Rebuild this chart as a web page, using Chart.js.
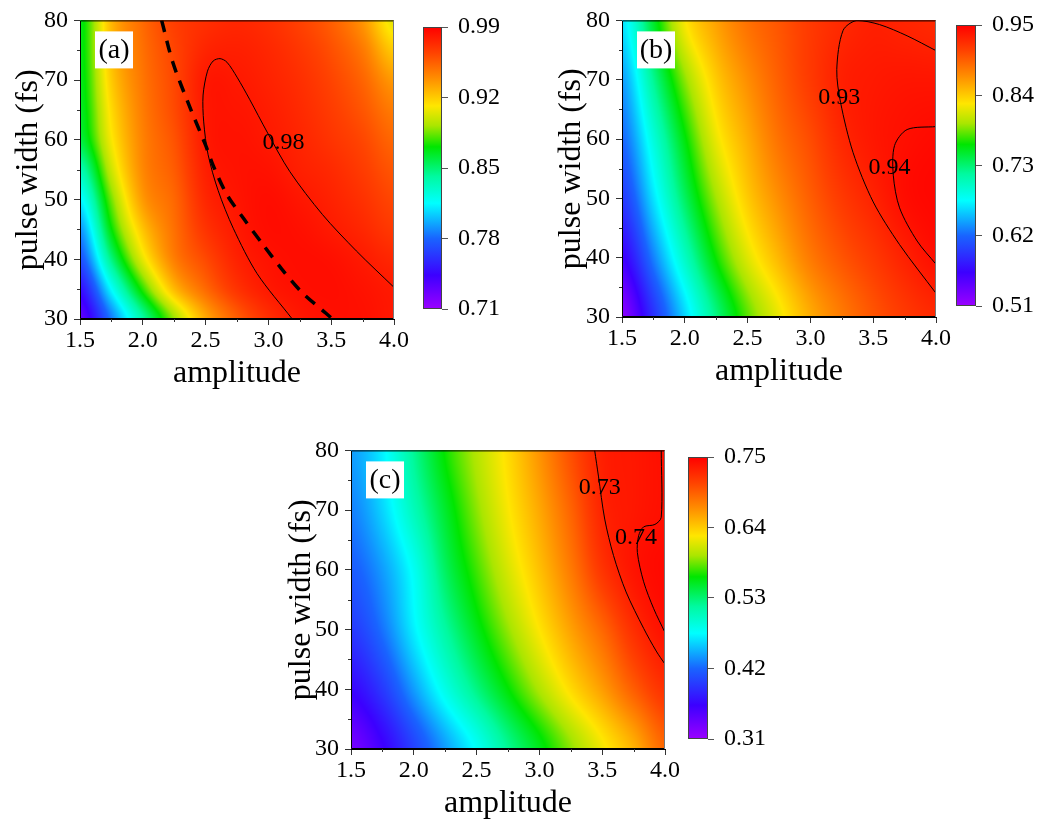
<!DOCTYPE html>
<html lang="en">
<head>
  <meta charset="UTF-8" />
  <title>Contour maps</title>
  <script src="https://cdn.jsdelivr.net/npm/chart.js"></script>
  <style>
    html, body { margin: 0; padding: 0; background: #fff; overflow: hidden; }
    body { width: 1038px; height: 819px; position: relative; }
    canvas { position: absolute; }
  </style>
</head>
<body>
  <canvas id="mapA" width="420" height="410" style="left:0px;top:0px"></canvas>
  <canvas id="barA" width="110" height="340" style="left:400px;top:0px"></canvas>
  <canvas id="mapB" width="420" height="410" style="left:540px;top:0px"></canvas>
  <canvas id="barB" width="108" height="340" style="left:930px;top:0px"></canvas>
  <canvas id="mapC" width="420" height="410" style="left:270px;top:430px"></canvas>
  <canvas id="barC" width="110" height="340" style="left:660px;top:430px"></canvas>

  <script>
    // grid nodes (columns = amplitude, rows = pulse width from top to bottom)
    const amplitude = [1.5, 1.75, 2.0, 2.25, 2.5, 2.75, 3.0, 3.25, 3.5, 3.75, 4.0];
    const pulseWidthA = [80, 75, 70, 65, 60, 55, 50, 45, 40, 35, 30];
    const pulseWidth = [80, 70, 60, 50, 40, 30];

    const valuesA = [
      [0.866, 0.926, 0.951, 0.966, 0.972, 0.975, 0.972, 0.965, 0.955, 0.937, 0.905],
      [0.866, 0.924, 0.949, 0.964, 0.976, 0.978, 0.975, 0.969, 0.960, 0.946, 0.920],
      [0.865, 0.920, 0.947, 0.963, 0.9805, 0.9805, 0.977, 0.972, 0.964, 0.953, 0.935],
      [0.863, 0.915, 0.945, 0.962, 0.9805, 0.982, 0.979, 0.974, 0.967, 0.958, 0.945],
      [0.858, 0.910, 0.943, 0.959, 0.980, 0.983, 0.9805, 0.976, 0.970, 0.963, 0.952],
      [0.835, 0.900, 0.941, 0.956, 0.978, 0.983, 0.983, 0.978, 0.974, 0.967, 0.958],
      [0.812, 0.885, 0.935, 0.952, 0.975, 0.982, 0.985, 0.9815, 0.977, 0.971, 0.963],
      [0.790, 0.870, 0.922, 0.949, 0.970, 0.9802, 0.985, 0.984, 0.980, 0.975, 0.968],
      [0.772, 0.847, 0.906, 0.944, 0.962, 0.977, 0.983, 0.985, 0.984, 0.980, 0.975],
      [0.748, 0.815, 0.876, 0.925, 0.951, 0.970, 0.9803, 0.984, 0.985, 0.983, 0.980],
      [0.730, 0.785, 0.840, 0.890, 0.930, 0.955, 0.972, 0.981, 0.984, 0.984, 0.981]
    ];
    const valuesB = [
      [0.665, 0.750, 0.825, 0.860, 0.885, 0.900, 0.915, 0.925, 0.931, 0.928, 0.925],
      [0.640, 0.720, 0.790, 0.840, 0.870, 0.895, 0.915, 0.931, 0.935, 0.937, 0.937],
      [0.620, 0.690, 0.760, 0.820, 0.855, 0.885, 0.905, 0.926, 0.936, 0.941, 0.944],
      [0.595, 0.665, 0.735, 0.795, 0.840, 0.870, 0.895, 0.915, 0.929, 0.942, 0.946],
      [0.560, 0.630, 0.700, 0.765, 0.815, 0.850, 0.880, 0.900, 0.915, 0.930, 0.941],
      [0.520, 0.590, 0.660, 0.725, 0.780, 0.820, 0.855, 0.880, 0.900, 0.915, 0.925]
    ];
    const valuesC = [
      [0.440, 0.470, 0.520, 0.565, 0.600, 0.632, 0.667, 0.703, 0.731, 0.736, 0.741],
      [0.430, 0.460, 0.505, 0.550, 0.590, 0.625, 0.657, 0.692, 0.728, 0.736, 0.741],
      [0.415, 0.440, 0.480, 0.535, 0.575, 0.612, 0.645, 0.680, 0.718, 0.738, 0.745],
      [0.395, 0.425, 0.470, 0.515, 0.555, 0.592, 0.627, 0.660, 0.690, 0.722, 0.740],
      [0.365, 0.395, 0.440, 0.485, 0.525, 0.562, 0.598, 0.632, 0.662, 0.695, 0.720],
      [0.330, 0.360, 0.400, 0.440, 0.478, 0.520, 0.555, 0.590, 0.622, 0.652, 0.690]
    ];

    const ampTicks = [1.5, 2.0, 2.5, 3.0, 3.5, 4.0];
    const ampMinor = [1.75, 2.25, 2.75, 3.25, 3.75];
    const pwTicks = [30, 40, 50, 60, 70, 80];
    const pwMinor = [35, 45, 55, 65, 75];
    const barTicksA = [0.71, 0.78, 0.85, 0.92, 0.99];
    const barTicksB = [0.51, 0.62, 0.73, 0.84, 0.95];
    const barTicksC = [0.31, 0.42, 0.53, 0.64, 0.75];

    // contour lines
    const lineA98 = [
      {x: 3.19, y: 30}, {x: 2.91, y: 37.6}, {x: 2.72, y: 45.2}, {x: 2.6, y: 51.5}, {x: 2.52, y: 57.5},
      {x: 2.485, y: 63}, {x: 2.48, y: 67.5}, {x: 2.515, y: 71.5}, {x: 2.56, y: 73.2}, {x: 2.615, y: 73.6},
      {x: 2.67, y: 73.0}, {x: 2.75, y: 70.5}, {x: 2.85, y: 66.8}, {x: 2.99, y: 61.3}, {x: 3.17, y: 54.7},
      {x: 3.43, y: 47.5}, {x: 3.70, y: 41.4}, {x: 4.0, y: 35.3}
    ];
    const dashA = [
      {x: 2.15, y: 80}, {x: 2.24, y: 72.9}, {x: 2.38, y: 65.2}, {x: 2.5, y: 59.1}, {x: 2.56, y: 55.7},
      {x: 2.67, y: 50.8}, {x: 2.80, y: 46.9}, {x: 2.955, y: 42.5}, {x: 3.105, y: 38.4}, {x: 3.265, y: 34.5},
      {x: 3.456, y: 31.0}, {x: 3.51, y: 30}
    ];
    const lineB93 = [
      {x: 4.0, y: 34}, {x: 3.71, y: 42.2}, {x: 3.5, y: 49.4}, {x: 3.34, y: 57.7}, {x: 3.24, y: 66.2},
      {x: 3.21, y: 71.7}, {x: 3.26, y: 78.3}, {x: 3.37, y: 80}, {x: 3.55, y: 79.3}, {x: 3.77, y: 77.4},
      {x: 4.0, y: 74.9}
    ];
    const lineB94 = [
      {x: 4.0, y: 62.1}, {x: 3.77, y: 61.6}, {x: 3.67, y: 58.9}, {x: 3.66, y: 53.9}, {x: 3.71, y: 48.4},
      {x: 3.85, y: 42.8}, {x: 4.0, y: 38.9}
    ];
    const lineC73 = [
      {x: 3.44, y: 80}, {x: 3.47, y: 75.7}, {x: 3.52, y: 68.5}, {x: 3.59, y: 62.4}, {x: 3.69, y: 56.3},
      {x: 3.83, y: 50.2}, {x: 3.93, y: 46.4}, {x: 4.0, y: 44.2}
    ];
    const lineC74 = [
      {x: 3.97, y: 80}, {x: 3.97, y: 68.8}, {x: 3.92, y: 67.6}, {x: 3.83, y: 67.2}, {x: 3.79, y: 65.7},
      {x: 3.78, y: 62.9}, {x: 3.83, y: 58.0}, {x: 3.91, y: 53.5}, {x: 4.0, y: 49.5}
    ];

    const serif = "'Liberation Serif', 'Times New Roman', serif";
    const tickFont = {family: serif, size: 24};
    const titleFont = {family: serif, size: 32};

    // rainbow colour map
    const palette = [
      [0, 155, 0, 255], [0.12, 60, 0, 255], [0.25, 25, 100, 255], [0.375, 0, 255, 255],
      [0.47, 0, 250, 160], [0.575, 0, 230, 0], [0.65, 170, 230, 0], [0.72, 255, 230, 0],
      [0.82, 255, 140, 0], [0.91, 255, 65, 0], [1, 255, 0, 0]
    ];
    function colorAt(t) {
      t = Math.min(1, Math.max(0, t));
      for (let i = 1; i < palette.length; i++) {
        if (t <= palette[i][0]) {
          const a = palette[i - 1], b = palette[i];
          const f = (t - a[0]) / (b[0] - a[0]);
          return [a[1] + f * (b[1] - a[1]), a[2] + f * (b[2] - a[2]), a[3] + f * (b[3] - a[3])];
        }
      }
      return palette[palette.length - 1].slice(1);
    }

    function fracIndex(arr, v) {
      for (let i = 0; i < arr.length - 1; i++) {
        const lo = Math.min(arr[i], arr[i + 1]), hi = Math.max(arr[i], arr[i + 1]);
        if (v >= lo && v <= hi) return i + (v - arr[i]) / (arr[i + 1] - arr[i]);
      }
      return Math.abs(v - arr[0]) < Math.abs(v - arr[arr.length - 1]) ? 0 : arr.length - 1;
    }
    function cubic(p0, p1, p2, p3, t) {
      return p1 + 0.5 * t * (p2 - p0 + t * (2 * p0 - 5 * p1 + 4 * p2 - p3 + t * (3 * (p1 - p2) + p3 - p0)));
    }
    function sample(grid, ys, xv, yv) {
      const fx = fracIndex(amplitude, xv), fy = fracIndex(ys, yv);
      const ix = Math.min(Math.floor(fx), amplitude.length - 2), iy = Math.min(Math.floor(fy), ys.length - 2);
      const tx = fx - ix, ty = fy - iy;
      const cx = i => Math.max(0, Math.min(amplitude.length - 1, i));
      const cy = j => Math.max(0, Math.min(ys.length - 1, j));
      const rows = [];
      for (let j = iy - 1; j <= iy + 2; j++) {
        const r = grid[cy(j)];
        rows.push(cubic(r[cx(ix - 1)], r[cx(ix)], r[cx(ix + 1)], r[cx(ix + 2)], tx));
      }
      return cubic(rows[0], rows[1], rows[2], rows[3], ty);
    }

    function heatPlugin(grid, ys, range, labels, tag) {
      return {
        id: 'heatmap',
        beforeDatasetsDraw(chart) {
          const {ctx, chartArea: a, scales: {x, y}} = chart;
          const w = Math.round(a.right - a.left), h = Math.round(a.bottom - a.top);
          const off = document.createElement('canvas');
          off.width = w; off.height = h;
          const octx = off.getContext('2d');
          const img = octx.createImageData(w, h);
          for (let py = 0; py < h; py++) {
            const yv = y.getValueForPixel(a.top + py + 0.5);
            for (let px = 0; px < w; px++) {
              const xv = x.getValueForPixel(a.left + px + 0.5);
              const c = colorAt((sample(grid, ys, xv, yv) - range[0]) / (range[1] - range[0]));
              const k = (py * w + px) * 4;
              img.data[k] = c[0]; img.data[k + 1] = c[1]; img.data[k + 2] = c[2]; img.data[k + 3] = 255;
            }
          }
          octx.putImageData(img, 0, 0);
          ctx.drawImage(off, a.left, a.top);
        },
        afterDatasetsDraw(chart) {
          const {ctx, chartArea: a, scales: {x, y}} = chart;
          ctx.save();
          // frame
          ctx.lineWidth = 1;
          ctx.strokeStyle = '#000';
          ctx.beginPath();
          ctx.moveTo(a.right, a.top + 0.5); ctx.lineTo(a.left + 0.5, a.top + 0.5);
          ctx.lineTo(a.left + 0.5, a.bottom - 0.5); ctx.lineTo(a.right, a.bottom - 0.5);
          ctx.stroke();
          ctx.strokeStyle = '#777';
          ctx.beginPath();
          ctx.moveTo(a.right - 0.5, a.top); ctx.lineTo(a.right - 0.5, a.bottom);
          ctx.stroke();
          // minor ticks
          ctx.strokeStyle = '#333';
          ctx.beginPath();
          ampMinor.forEach(v => {
            const px = Math.round(x.getPixelForValue(v)) + 0.5;
            ctx.moveTo(px, a.bottom); ctx.lineTo(px, a.bottom + 3);
          });
          pwMinor.forEach(v => {
            const py = Math.round(y.getPixelForValue(v)) + 0.5;
            ctx.moveTo(a.left, py); ctx.lineTo(a.left - 3, py);
          });
          ctx.stroke();
          // contour labels
          ctx.fillStyle = '#000';
          ctx.font = '24px ' + serif;
          ctx.textAlign = 'center';
          ctx.textBaseline = 'middle';
          labels.forEach(l => ctx.fillText(l.text, x.getPixelForValue(l.x), y.getPixelForValue(l.y)));
          // panel tag
          ctx.fillStyle = '#fff';
          ctx.fillRect(a.left + 15, a.top + 11, 38, 37);
          ctx.fillStyle = '#000';
          ctx.font = '28px ' + serif;
          ctx.fillText(tag, a.left + 34, a.top + 30);
          ctx.restore();
        }
      };
    }

    function makeMap(id, grid, ys, range, lines, labels, tag, lay) {
      return new Chart(document.getElementById(id), {
        type: 'scatter',
        data: {
          datasets: lines.map(l => ({
            data: l.pts, showLine: true, borderColor: '#000', borderWidth: l.w || 1,
            borderDash: l.dash || [], pointRadius: 0, tension: 0.3, fill: false
          }))
        },
        options: {
          responsive: false,
          animation: false,
          layout: {padding: {left: 0, top: lay.top, right: lay.right, bottom: 0}},
          plugins: {legend: {display: false}, tooltip: {enabled: false}},
          scales: {
            x: {
              type: 'linear', min: 1.5, max: 4.0,
              afterBuildTicks: s => { s.ticks = ampTicks.map(v => ({value: v})); },
              afterFit: s => { s.height = lay.xh; },
              ticks: {callback: v => v.toFixed(1), font: tickFont, color: '#000', padding: 1, maxRotation: 0, autoSkip: false},
              grid: {drawOnChartArea: false, tickLength: 6, color: '#333'},
              border: {color: '#000'},
              title: {display: true, text: 'amplitude', font: titleFont, color: '#000', padding: {top: 0, bottom: lay.xt}}
            },
            y: {
              type: 'linear', min: 30, max: 80,
              afterBuildTicks: s => { s.ticks = pwTicks.map(v => ({value: v})); },
              afterFit: s => { s.width = lay.yw; },
              ticks: {font: tickFont, color: '#000', padding: 6, autoSkip: false},
              grid: {drawOnChartArea: false, tickLength: 6, color: '#333'},
              border: {color: '#000'},
              title: {display: true, text: 'pulse width (fs)', font: titleFont, color: '#000', padding: {top: lay.yt, bottom: 0}}
            }
          }
        },
        plugins: [heatPlugin(grid, ys, range, labels, tag)]
      });
    }

    const barPlugin = {
      id: 'colorbar',
      beforeDatasetsDraw(chart) {
        const {ctx, chartArea: a} = chart;
        const g = ctx.createLinearGradient(0, a.bottom, 0, a.top);
        palette.forEach(p => g.addColorStop(p[0], `rgb(${p[1]},${p[2]},${p[3]})`));
        ctx.save();
        ctx.fillStyle = g;
        ctx.fillRect(a.left, a.top, a.right - a.left, a.bottom - a.top);
        ctx.strokeStyle = '#444';
        ctx.lineWidth = 1;
        ctx.strokeRect(a.left + 0.5, a.top + 0.5, a.right - a.left - 1, a.bottom - a.top - 1);
        ctx.restore();
      }
    };

    function makeBar(id, ticks, lay) {
      return new Chart(document.getElementById(id), {
        type: 'scatter',
        data: {datasets: []},
        options: {
          responsive: false,
          animation: false,
          layout: {padding: {left: lay.left, top: lay.top, right: 0, bottom: lay.bottom}},
          plugins: {legend: {display: false}, tooltip: {enabled: false}},
          scales: {
            x: {type: 'linear', display: false, min: 0, max: 1},
            y: {
              type: 'linear', position: 'right', min: ticks[0], max: ticks[ticks.length - 1],
              afterBuildTicks: s => { s.ticks = ticks.map(v => ({value: v})); },
              afterFit: s => { s.width = lay.yw; },
              ticks: {callback: v => v.toFixed(2), font: tickFont, color: '#000', padding: 10, autoSkip: false},
              grid: {drawOnChartArea: false, tickLength: 6, color: '#555'},
              border: {display: false}
            }
          }
        },
        plugins: [barPlugin]
      });
    }

    makeMap('mapA', valuesA, pulseWidthA, [0.71, 0.99],
      [{pts: lineA98}, {pts: dashA, w: 3.5, dash: [12, 9]}],
      [{text: '0.98', x: 3.12, y: 59.6}], '(a)',
      {top: 17, right: 26, xh: 91, yw: 80, xt: 17, yt: 9});
    makeBar('barA', barTicksA, {left: 23, top: 27, bottom: 31, yw: 68});

    makeMap('mapB', valuesB, pulseWidth, [0.51, 0.95],
      [{pts: lineB93}, {pts: lineB94}],
      [{text: '0.93', x: 3.23, y: 66.9}, {text: '0.94', x: 3.63, y: 55.2}], '(b)',
      {top: 16, right: 24, xh: 93, yw: 82, xt: 19, yt: 12});
    makeBar('barB', barTicksB, {left: 26, top: 25, bottom: 34, yw: 62});

    makeMap('mapC', valuesC, pulseWidth, [0.31, 0.75],
      [{pts: lineC73}, {pts: lineC74}],
      [{text: '0.73', x: 3.48, y: 73.7}, {text: '0.74', x: 3.77, y: 65.3}], '(c)',
      {top: 17, right: 25, xh: 91, yw: 81, xt: 17, yt: 12});
    makeBar('barC', barTicksC, {left: 28, top: 27, bottom: 31, yw: 62});
  </script>
</body>
</html>
